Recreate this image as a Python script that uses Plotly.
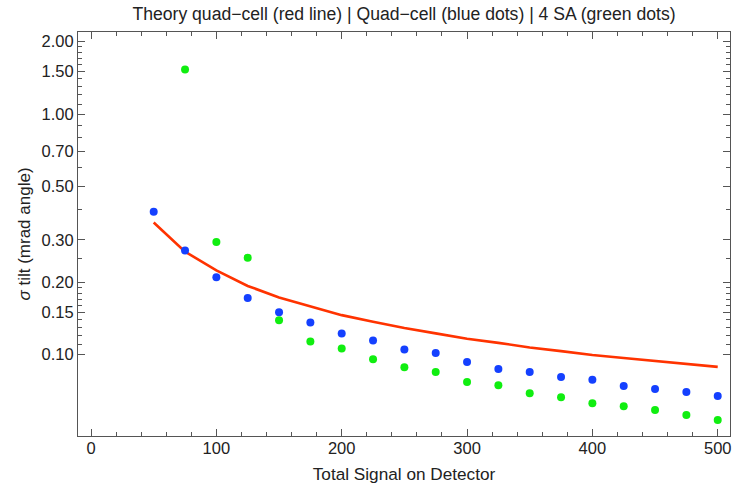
import plotly.graph_objects as go

# Data
signal_theory = [50, 75, 100, 125, 150, 175, 200, 225, 250, 275, 300, 325, 350, 375, 400, 425, 450, 475, 500]
theory = [0.354, 0.268, 0.224, 0.193, 0.173, 0.159, 0.146, 0.137, 0.129, 0.1226, 0.1165, 0.112,
          0.1072, 0.1035, 0.0997, 0.0969, 0.0941, 0.0918, 0.089]

signal_quad = [50, 75, 100, 125, 150, 175, 200, 225, 250, 275, 300, 325, 350, 375, 400, 425, 450, 475, 500]
quad = [0.393, 0.271, 0.210, 0.172, 0.150, 0.136, 0.1226, 0.1146, 0.105, 0.1016, 0.0933, 0.0872,
        0.0848, 0.0808, 0.0787, 0.0741, 0.0721, 0.0700, 0.0674]

signal_sa = [75, 100, 125, 150, 175, 200, 225, 250, 275, 300, 325, 350, 375, 400, 425, 450, 475, 500]
sa = [1.53, 0.294, 0.253, 0.139, 0.1135, 0.106, 0.0957, 0.0886, 0.0848, 0.0770, 0.0746, 0.0691,
      0.0665, 0.0628, 0.0610, 0.0589, 0.0562, 0.0536]

x_ticks = [0, 100, 200, 300, 400, 500]
y_ticks = [2.0, 1.5, 1.0, 0.7, 0.5, 0.3, 0.2, 0.15, 0.1]
y_ticktext = ["2.00", "1.50", "1.00", "0.70", "0.50", "0.30", "0.20", "0.15", "0.10"]
y_minor = [1.9, 1.8, 1.7, 1.6, 1.4, 1.3, 1.2, 1.1, 0.9, 0.8, 0.6, 0.4,
           0.25, 0.19, 0.18, 0.17, 0.16, 0.14, 0.13, 0.12, 0.11]

title_text = "Theory quad\u2212cell (red line) | Quad\u2212cell (blue dots) | 4 SA (green dots)"

fig = go.Figure()
fig.add_trace(go.Scatter(x=signal_theory, y=theory, mode="lines",
                         line=dict(color="#ff3300", width=2.6), showlegend=False))
fig.add_trace(go.Scatter(x=signal_quad, y=quad, mode="markers",
                         marker=dict(color="#1440ff", size=8), showlegend=False))
fig.add_trace(go.Scatter(x=signal_sa, y=sa, mode="markers",
                         marker=dict(color="#10ee10", size=8), showlegend=False))

font_family = "Liberation Sans, Arial, Helvetica, sans-serif"
axis_color = "#555555"

fig.update_layout(
    width=732, height=486,
    margin=dict(l=78, r=2, t=32, b=50),
    plot_bgcolor="white", paper_bgcolor="white",
    font=dict(family=font_family, size=16.5, color="#222222"),
    title=dict(text=title_text, x=0.5, xref="paper", xanchor="center", y=0.972, yanchor="middle",
               font=dict(size=17.6, color="#222222")),
    xaxis=dict(
        range=[-10.4, 509.8], showgrid=False, zeroline=False,
        showline=True, linecolor=axis_color, linewidth=1, mirror="allticks",
        ticks="inside", ticklen=7, tickcolor=axis_color, tickwidth=1,
        tickmode="array", tickvals=x_ticks, ticklabelstandoff=-3,
        minor=dict(ticks="inside", ticklen=4, tickcolor=axis_color, dtick=20, tick0=0, showgrid=False),
        title=dict(text="Total Signal on Detector", standoff=12, font=dict(size=17.2)),
        tickfont=dict(size=16.5),
    ),
    yaxis=dict(
        type="log", range=[-1.3378, 0.3407], showgrid=False, zeroline=False,
        showline=True, linecolor=axis_color, linewidth=1, mirror="allticks",
        ticks="inside", ticklen=7, tickcolor=axis_color, tickwidth=1,
        tickmode="array", tickvals=y_ticks, ticktext=y_ticktext,
        minor=dict(ticks="inside", ticklen=4, tickcolor=axis_color, tickmode="array",
                   tickvals=y_minor, showgrid=False),
        title=dict(text="<i>\u03c3</i> tilt (mrad angle)", standoff=6, font=dict(size=17)),
        tickfont=dict(size=16.5),
    ),
)

fig.write_html("out.html")
